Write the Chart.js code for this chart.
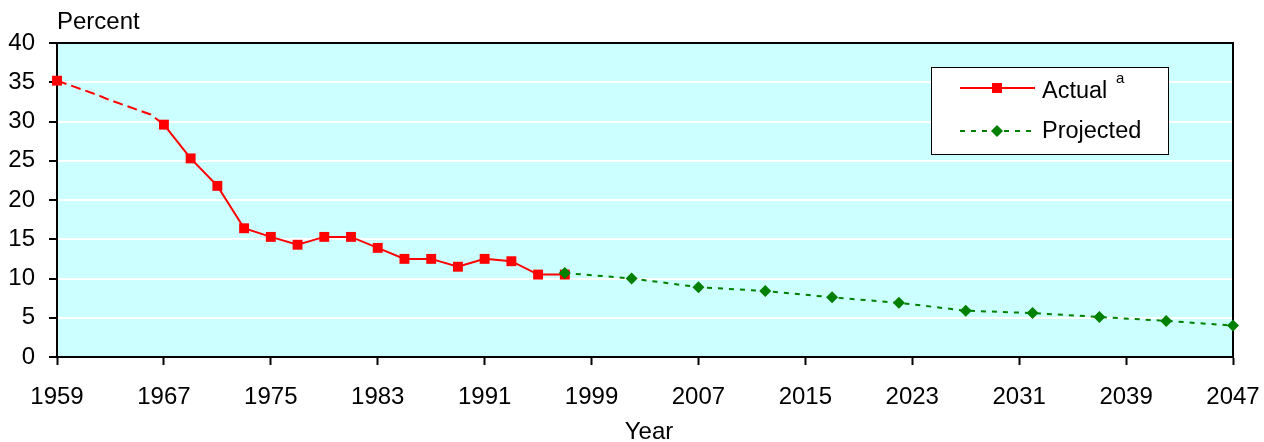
<!DOCTYPE html>
<html>
<head>
<meta charset="utf-8">
<script src="https://cdn.jsdelivr.net/npm/chart.js@4.4.1/dist/chart.umd.min.js"></script>
<style>
  html, body { margin: 0; padding: 0; background: #fff; }
  #wrap { width: 1264px; height: 442px; }
</style>
</head>
<body>
<div id="wrap"><canvas id="chart" width="1264" height="442"></canvas></div>
<script>
// ---- data ----
const actualYears  = [1959, 1960, 1961, 1962, 1963, 1964, 1965, 1966, 1967, 1969, 1971, 1973, 1975, 1977, 1979, 1981, 1983, 1985, 1987, 1989, 1991, 1993, 1995, 1997];
const actualValues = [35.2, 34.6, 34.0, 33.4, 32.7, 32.1, 31.5, 30.9, 29.6, 25.3, 21.8, 16.4, 15.3, 14.3, 15.3, 15.3, 13.9, 12.5, 12.5, 11.5, 12.5, 12.2, 10.5, 10.5];

const projectedYears  = [1997, 2002, 2007, 2012, 2017, 2022, 2027, 2032, 2037, 2042, 2047];
const projectedValues = [10.7, 10.0, 8.9, 8.4, 7.6, 6.9, 5.9, 5.6, 5.1, 4.6, 4.0];

const xTickYears = [1959, 1967, 1975, 1983, 1991, 1999, 2007, 2015, 2023, 2031, 2039, 2047];
const yTicks     = [0, 5, 10, 15, 20, 25, 30, 35, 40];

const RED   = '#ff0000';
const GREEN = '#008000';
const FONT  = 'Liberation Sans, Arial, sans-serif';

// points 1960-1966 carry no marker (dashed, unmarked stretch)
const hasMarker = (yr) => yr === 1959 || yr >= 1967;

// ============================================
// PLUGINS: plot background / border, labels, legend
// ============================================

const plotFrame = {
  id: 'plotFrame',
  beforeDraw(chart) {
    const { ctx, chartArea: a } = chart;
    ctx.save();
    ctx.fillStyle = '#ccffff';
    ctx.fillRect(a.left, a.top, a.right - a.left, a.bottom - a.top);
    ctx.restore();
  },
  beforeDatasetsDraw(chart) {
    const { ctx, chartArea: a } = chart;
    ctx.save();
    ctx.strokeStyle = '#000';
    ctx.lineWidth = 2;
    ctx.beginPath();
    ctx.moveTo(a.left, a.top);
    ctx.lineTo(a.right, a.top);
    ctx.lineTo(a.right, a.bottom);
    ctx.stroke();
    ctx.restore();
  },
  afterDraw(chart) {
    const { ctx } = chart;
    ctx.save();
    ctx.fillStyle = '#000';
    ctx.font = `24px ${FONT}`;
    ctx.textBaseline = 'alphabetic';
    ctx.textAlign = 'left';
    ctx.fillText('Percent', 57, 29);

    ctx.textAlign = 'center';
    ctx.fillText('Year', 649, 439);
    ctx.textAlign = 'left';

    // legend box
    const bx = 931, by = 67, bw = 237, bh = 87;
    ctx.fillStyle = '#fff';
    ctx.fillRect(bx, by, bw, bh);
    ctx.strokeStyle = '#000';
    ctx.lineWidth = 1;
    ctx.strokeRect(bx + 0.5, by + 0.5, bw, bh);

    // Actual
    ctx.strokeStyle = RED;
    ctx.lineWidth = 2;
    ctx.beginPath();
    ctx.moveTo(960, 88);
    ctx.lineTo(1035, 88);
    ctx.stroke();
    ctx.fillStyle = RED;
    ctx.fillRect(997 - 5, 88 - 5, 10, 10);

    // Projected
    ctx.strokeStyle = GREEN;
    ctx.setLineDash([5, 6]);
    ctx.beginPath();
    ctx.moveTo(960, 131);
    ctx.lineTo(1035, 131);
    ctx.stroke();
    ctx.setLineDash([]);
    ctx.fillStyle = GREEN;
    ctx.beginPath();
    ctx.moveTo(997, 125);
    ctx.lineTo(1003, 131);
    ctx.lineTo(997, 137);
    ctx.lineTo(991, 131);
    ctx.closePath();
    ctx.fill();

    ctx.fillStyle = '#000';
    ctx.font = `23.5px ${FONT}`;
    ctx.fillText('Actual', 1042, 98);
    ctx.fillText('Projected', 1042, 138);
    ctx.font = `15px ${FONT}`;
    ctx.fillText('a', 1116, 83);
    ctx.restore();
  }
};

const tickFont = { size: 24, family: FONT };

new Chart(document.getElementById('chart'), {
  type: 'line',
  data: {
    datasets: [
      {
        label: 'Projected',
        data: projectedYears.map((x, i) => ({ x, y: projectedValues[i] })),
        borderColor: GREEN,
        backgroundColor: GREEN,
        borderWidth: 2,
        borderDash: [5, 6],
        pointStyle: 'rectRot',
        pointRadius: 6,
        pointBorderWidth: 0,
        tension: 0,
        clip: false,
      },
      {
        label: 'Actual',
        data: actualYears.map((x, i) => ({ x, y: actualValues[i] })),
        borderColor: RED,
        backgroundColor: RED,
        borderWidth: 2,
        pointStyle: 'rect',
        pointRadius: (c) => hasMarker(actualYears[c.dataIndex]) ? 7 : 0,
        pointBorderWidth: 0,
        tension: 0,
        clip: false,
        segment: {
          borderDash: (c) => c.p1.parsed.x <= 1967 ? [10, 5] : undefined,
        },
      },
    ],
  },
  options: {
    responsive: false,
    animation: false,
    devicePixelRatio: 1,
    layout: { padding: { top: 43, right: 31, left: 0, bottom: 0 } },
    plugins: {
      legend: { display: false },
      tooltip: { enabled: false },
    },
    scales: {
      x: {
        type: 'linear',
        min: 1959,
        max: 2047,
        afterBuildTicks: (s) => { s.ticks = xTickYears.map(v => ({ value: v })); },
        afterFit: (s) => { s.height = 85; s.paddingLeft = 0; s.paddingRight = 0; },
        ticks: {
          color: '#000',
          font: tickFont,
          padding: 18,
          maxRotation: 0,
          autoSkip: false,
          callback: (v) => String(v),
        },
        grid: { drawOnChartArea: false, tickLength: 8, tickColor: '#000', tickWidth: 2 },
        border: { display: true, color: '#000', width: 2 },
      },
      y: {
        min: 0,
        max: 40,
        afterBuildTicks: (s) => { s.ticks = yTicks.map(v => ({ value: v })); },
        afterFit: (s) => { s.width = 57; s.paddingTop = 0; s.paddingBottom = 0; },
        ticks: { color: '#000', font: tickFont, padding: 14 },
        grid: { color: '#fff', lineWidth: 2, tickLength: 8, tickColor: '#000', tickWidth: 2 },
        border: { display: true, color: '#000', width: 2 },
      },
    },
  },
  plugins: [plotFrame],
});
</script>
</body>
</html>
